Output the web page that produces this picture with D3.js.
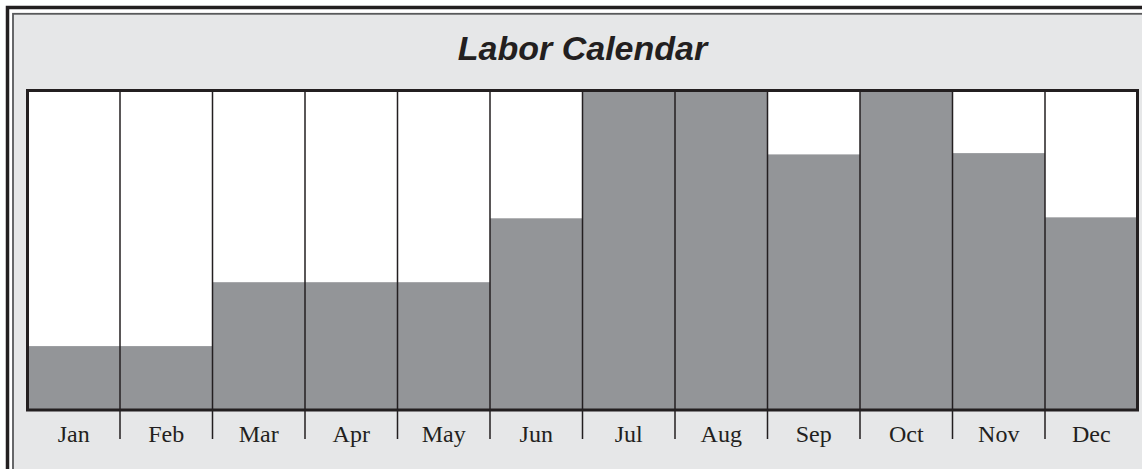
<!DOCTYPE html>
<html>
<head>
<meta charset="utf-8">
<script src="https://cdn.jsdelivr.net/npm/d3@7"></script>
<style>
  html, body { margin: 0; padding: 0; background: #fff; }
  svg { display: block; }
</style>
</head>
<body>
<div id="chart"></div>
<script>
const months = ["Jan", "Feb", "Mar", "Apr", "May", "Jun", "Jul", "Aug", "Sep", "Oct", "Nov", "Dec"];
const labor = [20, 20, 40, 40, 40, 60, 100, 100, 80, 100, 80.4, 60.3];
const title = "Labor Calendar";

const width = 1142;
const height = 469;
const plot = { left: 27.5, right: 1137.5, top: 90.5, bottom: 410 };

const svg = d3.select("#chart")
  .append("svg")
  .attr("width", width)
  .attr("height", height);

// outer frame: thick black, white gap, thin grey line, light grey fill
svg.append("rect")
  .attr("x", 7.5)
  .attr("y", 7.5)
  .attr("width", 2000)
  .attr("height", 2000)
  .attr("fill", "#fff")
  .attr("stroke", "#231f20")
  .attr("stroke-width", 3.5);

svg.append("rect")
  .attr("x", 13)
  .attr("y", 13.8)
  .attr("width", 2000)
  .attr("height", 2000)
  .attr("fill", "#e6e7e8")
  .attr("stroke", "#58595b")
  .attr("stroke-width", 1.8);

svg.append("text")
  .attr("x", (plot.left + plot.right) / 2)
  .attr("y", 60)
  .attr("text-anchor", "middle")
  .attr("font-family", "Liberation Sans, Arial, sans-serif")
  .attr("font-weight", "bold")
  .attr("font-style", "italic")
  .attr("font-size", 34)
  .attr("fill", "#231f20")
  .text(title);

const x = d3.scaleBand()
  .domain(months)
  .range([plot.left, plot.right])
  .paddingInner(0)
  .paddingOuter(0);

const y = d3.scaleLinear()
  .domain([0, 100])
  .range([plot.bottom, plot.top]);

// plot background
svg.append("rect")
  .attr("x", plot.left)
  .attr("y", plot.top)
  .attr("width", plot.right - plot.left)
  .attr("height", plot.bottom - plot.top)
  .attr("fill", "#fff");

svg.append("g")
  .selectAll("rect")
  .data(months)
  .join("rect")
  .attr("x", (d) => x(d))
  .attr("y", (d, i) => y(labor[i]))
  .attr("width", x.bandwidth())
  .attr("height", (d, i) => y(0) - y(labor[i]))
  .attr("fill", "#939598");

// month dividers, running down past the frame as ticks
svg.append("g")
  .selectAll("line")
  .data(months.slice(1))
  .join("line")
  .attr("x1", (d) => x(d))
  .attr("x2", (d) => x(d))
  .attr("y1", plot.top)
  .attr("y2", 439)
  .attr("stroke", "#231f20")
  .attr("stroke-width", 1.5);

svg.append("rect")
  .attr("x", plot.left)
  .attr("y", plot.top)
  .attr("width", plot.right - plot.left)
  .attr("height", plot.bottom - plot.top)
  .attr("fill", "none")
  .attr("stroke", "#231f20")
  .attr("stroke-width", 3);

const xAxis = d3.axisBottom(x).tickSize(0).tickPadding(0);

const gx = svg.append("g")
  .attr("transform", `translate(0,${plot.bottom})`)
  .call(xAxis);

gx.select(".domain").remove();
gx.selectAll("text")
  .attr("dy", null)
  .attr("y", 32)
  .attr("font-family", "Liberation Serif, Times New Roman, serif")
  .attr("font-size", 24)
  .attr("fill", "#231f20");
</script>
</body>
</html>
